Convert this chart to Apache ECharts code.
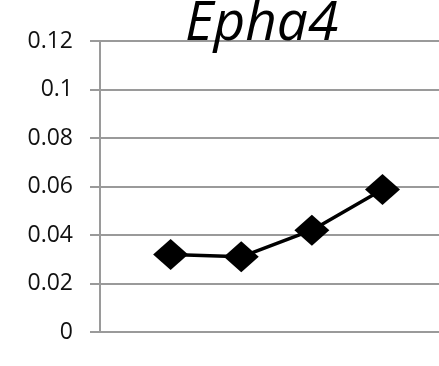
<!DOCTYPE html>
<html>
<head>
<meta charset="utf-8">
<script src="https://cdn.jsdelivr.net/npm/echarts@6/dist/echarts.min.js"></script>
<style>
html,body{margin:0;padding:0;background:#fff;}
#chart{width:439px;height:366px;}
</style>
</head>
<body>
<div id="chart"></div>
<script>
const titleText = 'Epha4';
const categories = ['1', '2', '3', '4'];
const values = [0.032, 0.031, 0.042, 0.0588];
const yTicks = [0, 0.02, 0.04, 0.06, 0.08, 0.1, 0.12];

const chart = echarts.init(document.getElementById('chart'));
chart.setOption({
  animation: false,
  backgroundColor: '#fff',
  title: {
    text: titleText,
    left: 180,
    top: -8,
    textStyle: {fontFamily: 'Open Sans', fontStyle: 'italic', fontWeight: 'normal', fontSize: 55, color: '#000'}
  },
  grid: {left: 100, right: 0, top: 41, bottom: 34},
  xAxis: {
    type: 'value', min: 0, max: 4.8,
    axisLine: {show: false}, axisTick: {show: false}, axisLabel: {show: false}, splitLine: {show: false}
  },
  yAxis: {
    type: 'value', min: yTicks[0], max: yTicks[yTicks.length - 1], interval: 0.02,
    axisLine: {show: true, lineStyle: {color: '#9a9a9a', width: 2}},
    axisTick: {show: true, length: 10, lineStyle: {color: '#9a9a9a', width: 2}},
    axisLabel: {
      margin: 27, fontFamily: 'Open Sans', fontSize: 23, color: '#111',
      formatter: v => String(parseFloat(v.toFixed(2)))
    },
    splitLine: {show: true, lineStyle: {color: '#9a9a9a', width: 2}}
  },
  series: [{
    type: 'line',
    data: values.map((v, i) => [i + 1, v]),
    symbol: 'diamond',
    symbolSize: [35, 31],
    itemStyle: {color: '#000'},
    lineStyle: {color: '#000', width: 3.5}
  }]
});
</script>
</body>
</html>
